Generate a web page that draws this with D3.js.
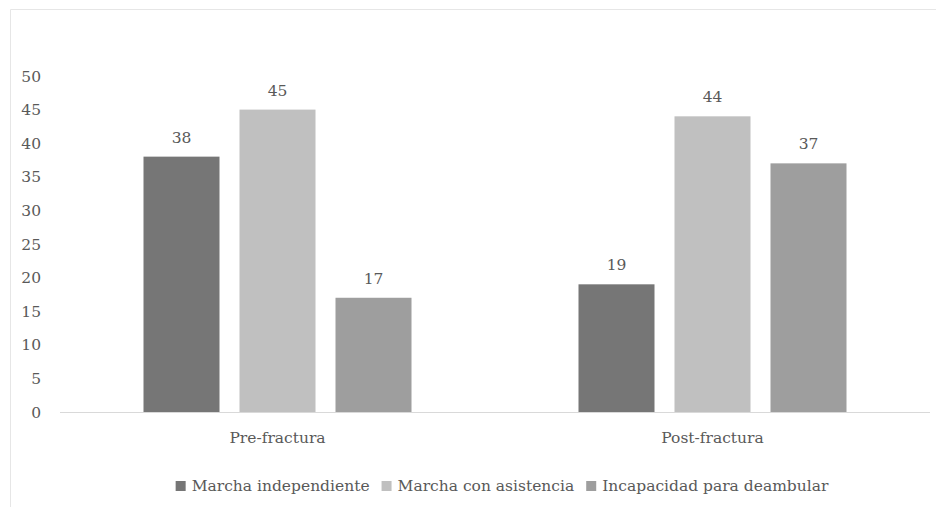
<!DOCTYPE html>
<html><head><meta charset="utf-8">
<script src="https://cdn.jsdelivr.net/npm/d3@7"></script>
<style>body{margin:0;background:#fff}svg{display:block}</style>
</head><body>
<svg id="c" width="936" height="507"></svg>
<script>
const categories = ["Pre-fractura", "Post-fractura"];
const seriesNames = ["Marcha independiente", "Marcha con asistencia", "Incapacidad para deambular"];
const marchaIndependiente = [38, 19];
const marchaConAsistencia = [45, 44];
const incapacidad = [17, 37];
const yTicks = [0, 5, 10, 15, 20, 25, 30, 35, 40, 45, 50];
const colors = ["#767676", "#c0c0c0", "#9e9e9e"];
const series = [marchaIndependiente, marchaConAsistencia, incapacidad];

const svg = d3.select("#c");
const font = "'DejaVu Serif', serif";
const textColor = "#595959";

// frame
svg.append("path").attr("d", "M10.5,507 L10.5,9.5 L936,9.5").attr("fill", "none").attr("stroke", "#e6e6e6").attr("stroke-width", 1);

const x0 = d3.scaleBand().domain(categories).range([60, 930]).paddingInner(0).paddingOuter(0);
const y = d3.scaleLinear().domain([0, 50]).range([412, 76]);
const barW = 76, gap = 20;
const groupW = barW * 3 + gap * 2;

// y axis labels
svg.append("g").selectAll("text").data(yTicks).join("text")
  .attr("x", 41).attr("y", d => y(d)).attr("dy", "0.36em")
  .attr("text-anchor", "end").attr("font-family", font).attr("font-size", 15.5)
  .attr("fill", textColor).text(d => d);

// bars
categories.forEach((c, ci) => {
  const start = x0(c) + (x0.bandwidth() - groupW) / 2;
  series.forEach((s, si) => {
    const xb = start + si * (barW + gap);
    svg.append("rect").attr("x", xb).attr("y", y(s[ci])).attr("width", barW)
      .attr("height", y(0) - y(s[ci])).attr("fill", colors[si]);
    svg.append("text").attr("x", xb + barW / 2).attr("y", y(s[ci]) - 14)
      .attr("text-anchor", "middle").attr("font-family", font).attr("font-size", 15.5)
      .attr("fill", textColor).text(s[ci]);
  });
});

// baseline
svg.append("line").attr("x1", 60).attr("x2", 930).attr("y1", 412.5).attr("y2", 412.5)
  .attr("stroke", "#d9d9d9").attr("stroke-width", 1);

// category labels
svg.append("g").selectAll("text").data(categories).join("text")
  .attr("x", d => x0(d) + x0.bandwidth() / 2).attr("y", 443)
  .attr("text-anchor", "middle").attr("font-family", font).attr("font-size", 15.5)
  .attr("fill", textColor).text(d => d);

// legend
const lg = svg.append("g");
let lx = 0;
const items = [];
seriesNames.forEach((n, i) => {
  const g = lg.append("g").attr("transform", `translate(${lx},0)`);
  g.append("rect").attr("x", 0).attr("y", -10).attr("width", 10).attr("height", 10).attr("fill", colors[i]);
  const t = g.append("text").attr("x", 16).attr("y", 0).attr("font-family", font).attr("font-size", 15.5)
    .attr("fill", textColor).text(n);
  const w = t.node().getComputedTextLength();
  lx += 16 + w + 12;
});
const totalW = lx - 12;
lg.attr("transform", `translate(${(176 + 828) / 2 - totalW / 2},491)`);
</script>
</body></html>
